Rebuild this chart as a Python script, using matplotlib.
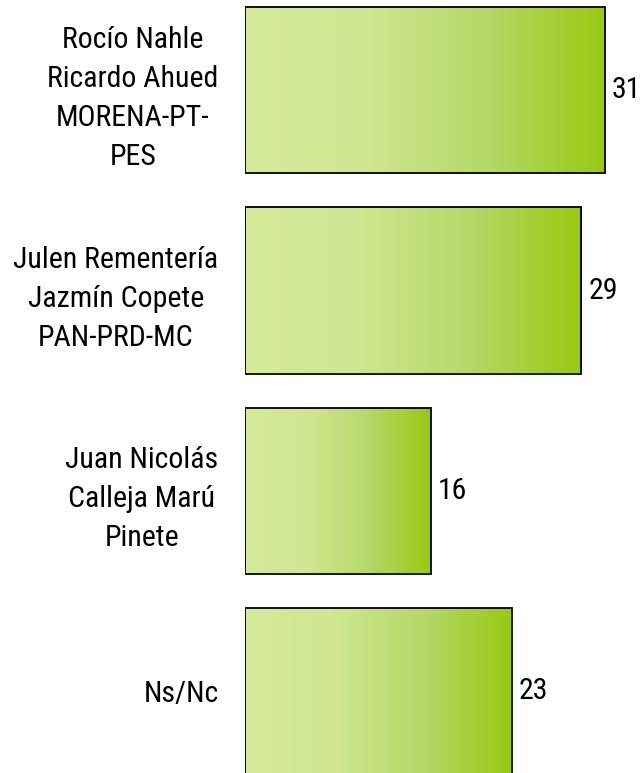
import numpy as np
import matplotlib
matplotlib.use("Agg")
import matplotlib.pyplot as plt
from matplotlib.colors import LinearSegmentedColormap

plt.rcParams['font.family'] = ['Liberation Sans Narrow', 'Roboto Condensed',
                               'Archivo Narrow', 'DejaVu Sans']
plt.rcParams['font.stretch'] = 'condensed'

labels = [
    "Rocío Nahle\nRicardo Ahued\nMORENA-PT-\nPES",
    "Julen Rementería\nJazmín Copete\nPAN-PRD-MC",
    "Juan Nicolás\nCalleja Marú\nPinete",
    "Ns/Nc",
]
values = [31, 29, 16, 23]

green = LinearSegmentedColormap.from_list(
    "green", ["#d6ea9c", "#d0e690", "#b5d868", "#99c911"])

fig = plt.figure(figsize=(6.44, 7.73), dpi=100)
ax = fig.add_axes([245 / 644, 0, 399 / 644, 1])

pos = np.arange(len(values))
bars = ax.barh(pos, values, height=0.83, facecolor="none",
               edgecolor="black", linewidth=1.3, zorder=3)

# gradient fill per bar, clipped to the bar rectangle
grad = np.linspace(0, 1, 256).reshape(1, -1)
for bar in bars:
    x0, y0 = bar.get_x(), bar.get_y()
    w, h = bar.get_width(), bar.get_height()
    im = ax.imshow(grad, cmap=green, aspect="auto",
                   extent=[x0, x0 + w, y0 + h, y0], zorder=2)
    im.set_clip_path(bar)

for p, v in zip(pos, values):
    ax.text(v + 0.6, p, str(v), va="center", ha="left", fontsize=21.5)

ax.set_xlim(0, 399 / 11.6)
ax.set_ylim(3.408, -0.45)
ax.set_yticks(pos)
ax.set_yticklabels(labels, fontsize=21.5, multialignment="center",
                   linespacing=1.5)
ax.tick_params(axis="y", length=0, pad=19)
ax.set_xticks([])
for s in ax.spines.values():
    s.set_visible(False)

fig.savefig("out.png", dpi=100)
